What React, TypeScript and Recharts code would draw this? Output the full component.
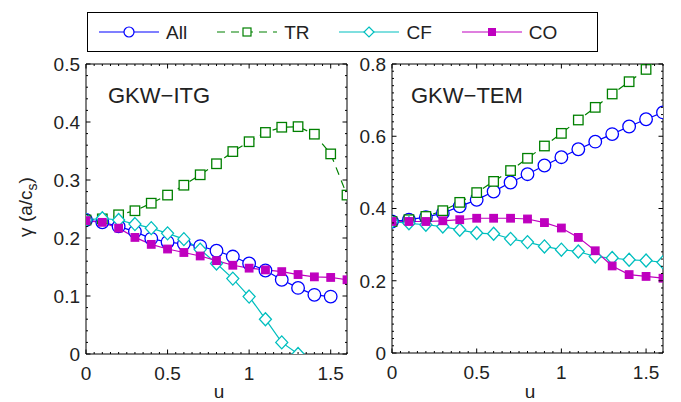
import { Line, LineChart, XAxis, YAxis } from 'recharts';

const FONT = '"Liberation Sans", Arial, Helvetica, sans-serif';

// u values (shared by both panels)
const uValues = [0, 0.1, 0.2, 0.3, 0.4, 0.5, 0.6, 0.7, 0.8, 0.9, 1.0, 1.1, 1.2, 1.3, 1.4, 1.5, 1.6];

// GKW-ITG growth rates
const itgAll = [0.231, 0.227, 0.22, 0.211, 0.199, 0.193, 0.19, 0.186, 0.178, 0.168, 0.156, 0.144, 0.128, 0.114, 0.102, 0.099];
const itgTR = [0.231, 0.233, 0.24, 0.247, 0.26, 0.274, 0.291, 0.309, 0.328, 0.349, 0.366, 0.382, 0.391, 0.392, 0.379, 0.345, 0.274];
const itgCF = [0.231, 0.234, 0.231, 0.224, 0.217, 0.208, 0.198, 0.18, 0.156, 0.13, 0.099, 0.06, 0.02, 0.0];
const itgCO = [0.23, 0.227, 0.217, 0.201, 0.189, 0.181, 0.175, 0.169, 0.161, 0.153, 0.148, 0.145, 0.142, 0.137, 0.133, 0.132, 0.128];

// GKW-TEM growth rates
const temAll = [0.364, 0.369, 0.376, 0.387, 0.406, 0.424, 0.447, 0.472, 0.495, 0.519, 0.542, 0.564, 0.585, 0.606, 0.627, 0.647, 0.666];
const temTR = [0.364, 0.369, 0.378, 0.394, 0.417, 0.444, 0.475, 0.505, 0.539, 0.573, 0.608, 0.645, 0.68, 0.717, 0.751, 0.785, 0.82];
const temCF = [0.364, 0.359, 0.355, 0.35, 0.341, 0.332, 0.33, 0.316, 0.307, 0.295, 0.286, 0.281, 0.267, 0.263, 0.258, 0.256, 0.251];
const temCO = [0.364, 0.364, 0.364, 0.366, 0.369, 0.373, 0.373, 0.373, 0.371, 0.361, 0.346, 0.32, 0.283, 0.241, 0.217, 0.212, 0.207];

const xMajors = [0, 0.5, 1, 1.5];
const itgMajors = [0, 0.1, 0.2, 0.3, 0.4, 0.5];
const temMajors = [0, 0.2, 0.4, 0.6, 0.8];

const C_ALL = '#0000ff';
const C_TR = '#008000';
const C_CF = '#00bfbf';
const C_CO = '#bf00bf';

const makeRows = (all: number[], tr: number[], cf: number[], co: number[]) =>
  uValues.map((u, i) => ({
    u,
    all: all[i] ?? null,
    tr: tr[i] ?? null,
    cf: cf[i] ?? null,
    co: co[i] ?? null,
  }));

const itgRows = makeRows(itgAll, itgTR, itgCF, itgCO);
const temRows = makeRows(temAll, temTR, temCF, temCO);

// minor ticks
const steps = (max: number, step: number) => {
  const out: number[] = [];
  for (let i = 0; i * step <= max + 1e-9; i++) out.push(Math.round(i * step * 1000) / 1000);
  return out;
};
const xTicks = steps(1.6, 0.05);

type Side = 'bottom' | 'top' | 'left' | 'right';

const makeTick = (side: Side, majors: number[], labels: boolean) => (props: any) => {
  const { x, y, payload } = props;
  const v = payload.value;
  const major = majors.some((m) => Math.abs(m - v) < 1e-6);
  const len = major ? 4.5 : 2;
  let line;
  if (side === 'bottom') line = <line x1={x} y1={y} x2={x} y2={y - len} stroke="#000" />;
  else if (side === 'top') line = <line x1={x} y1={y} x2={x} y2={y + len} stroke="#000" />;
  else if (side === 'left') line = <line x1={x} y1={y} x2={x + len} y2={y} stroke="#000" />;
  else line = <line x1={x} y1={y} x2={x - len} y2={y} stroke="#000" />;
  let text = null;
  if (major && labels) {
    if (side === 'bottom')
      text = (
        <text x={x} y={y + 26} textAnchor="middle" fontSize={19} fontFamily={FONT} fill="#222">
          {String(v)}
        </text>
      );
    else
      text = (
        <text x={x - 6} y={y} dy="0.36em" textAnchor="end" fontSize={19} fontFamily={FONT} fill="#222">
          {String(v)}
        </text>
      );
  }
  return (
    <g>
      {line}
      {text}
    </g>
  );
};

const circleDot = (color: string) => (p: any) =>
  p.cy == null ? <g key={p.key ?? p.index} /> : <circle key={p.key ?? p.index} cx={p.cx} cy={p.cy} r={6.3} fill="#fff" stroke={color} strokeWidth={1.3} />;

const squareDot = (color: string, filled: boolean, s: number) => (p: any) =>
  p.cy == null ? (
    <g key={p.key ?? p.index} />
  ) : (
    <rect key={p.key ?? p.index} x={p.cx - s / 2} y={p.cy - s / 2} width={s} height={s} fill={filled ? color : '#fff'} stroke={color} strokeWidth={1.3} />
  );

const diamondDot = (color: string) => (p: any) =>
  p.cy == null ? (
    <g key={p.key ?? p.index} />
  ) : (
    <path
      key={p.key ?? p.index}
      d={`M${p.cx},${p.cy - 6.5}L${p.cx + 6},${p.cy}L${p.cx},${p.cy + 6.5}L${p.cx - 6},${p.cy}Z`}
      fill="#fff"
      stroke={color}
      strokeWidth={1.3}
    />
  );

type PanelProps = {
  rows: any[];
  yMax: number;
  yMajors: number[];
  margin: { top: number; right: number; bottom: number; left: number };
};

function Panel({ rows, yMax, yMajors, margin }: PanelProps) {
  const yTicks = steps(yMax, 0.02);
  return (
    <LineChart width={681} height={402} data={rows} margin={margin}>
      <XAxis
        xAxisId="b"
        dataKey="u"
        type="number"
        domain={[0, 1.6]}
        allowDataOverflow
        ticks={xTicks}
        interval={0}
        height={1}
        tickSize={0}
        tickMargin={0}
        tickLine={false}
        axisLine={{ stroke: '#000' }}
        tick={makeTick('bottom', xMajors, true)}
      />
      <XAxis
        xAxisId="t"
        orientation="top"
        dataKey="u"
        type="number"
        domain={[0, 1.6]}
        allowDataOverflow
        ticks={xTicks}
        interval={0}
        height={1}
        tickSize={0}
        tickMargin={0}
        tickLine={false}
        axisLine={{ stroke: '#000' }}
        tick={makeTick('top', xMajors, false)}
      />
      <YAxis
        yAxisId="l"
        type="number"
        domain={[0, yMax]}
        allowDataOverflow
        ticks={yTicks}
        interval={0}
        width={1}
        tickSize={0}
        tickMargin={0}
        tickLine={false}
        axisLine={{ stroke: '#000' }}
        tick={makeTick('left', yMajors, true)}
      />
      <YAxis
        yAxisId="r"
        orientation="right"
        type="number"
        domain={[0, yMax]}
        allowDataOverflow
        ticks={yTicks}
        interval={0}
        width={1}
        tickSize={0}
        tickMargin={0}
        tickLine={false}
        axisLine={{ stroke: '#000' }}
        tick={makeTick('right', yMajors, false)}
      />
      <Line xAxisId="b" yAxisId="l" dataKey="all" type="linear" stroke={C_ALL} strokeWidth={1.2} dot={circleDot(C_ALL)} isAnimationActive={false} />
      <Line xAxisId="b" yAxisId="l" dataKey="tr" type="linear" stroke={C_TR} strokeWidth={1.2} strokeDasharray="8 6" dot={squareDot(C_TR, false, 9.5)} isAnimationActive={false} />
      <Line xAxisId="b" yAxisId="l" dataKey="cf" type="linear" stroke={C_CF} strokeWidth={1.2} dot={diamondDot(C_CF)} isAnimationActive={false} />
      <Line xAxisId="b" yAxisId="l" dataKey="co" type="linear" stroke={C_CO} strokeWidth={1.2} dot={squareDot(C_CO, true, 7.5)} isAnimationActive={false} />
    </LineChart>
  );
}

const legendItems = [
  { name: 'All', color: C_ALL, marker: 'circle', dash: undefined },
  { name: 'TR', color: C_TR, marker: 'square', dash: '8 6' },
  { name: 'CF', color: C_CF, marker: 'diamond', dash: undefined },
  { name: 'CO', color: C_CO, marker: 'filled', dash: undefined },
];

function LegendIcon({ color, marker, dash }: { color: string; marker: string; dash?: string }) {
  return (
    <svg width={60} height={16} style={{ display: 'block' }}>
      <line x1={0} y1={8} x2={60} y2={8} stroke={color} strokeWidth={1.2} strokeDasharray={dash} />
      {marker === 'circle' && <circle cx={30} cy={8} r={5} fill="#fff" stroke={color} strokeWidth={1.2} />}
      {marker === 'square' && <rect x={26} y={4} width={8} height={8} fill="#fff" stroke={color} strokeWidth={1.2} />}
      {marker === 'diamond' && <path d="M30,3L35,8L30,13L25,8Z" fill="#fff" stroke={color} strokeWidth={1.2} />}
      {marker === 'filled' && <rect x={26.5} y={4.5} width={7} height={7} fill={color} stroke={color} strokeWidth={1} />}
    </svg>
  );
}

export default function App() {
  return (
    <div style={{ position: 'relative', width: 681, height: 402, background: '#fff', overflow: 'hidden', fontFamily: FONT }}>
      <style>{'body{margin:0}'}</style>
      <div style={{ position: 'absolute', left: 0, top: 0 }}>
        <Panel rows={itgRows} yMax={0.5} yMajors={itgMajors} margin={{ top: 63, right: 333, bottom: 47, left: 85 }} />
      </div>
      <div style={{ position: 'absolute', left: 0, top: 0 }}>
        <Panel rows={temRows} yMax={0.8} yMajors={temMajors} margin={{ top: 63, right: 17, bottom: 48, left: 391 }} />
      </div>
      <svg width={681} height={402} style={{ position: 'absolute', left: 0, top: 0, pointerEvents: 'none' }}>
        <text x={108} y={103} fontSize={22} fontFamily={FONT} fill="#222">
          GKW−ITG
        </text>
        <text x={411} y={103} fontSize={22} fontFamily={FONT} fill="#222">
          GKW−TEM
        </text>
        <text x={219} y={398} textAnchor="middle" fontSize={19} fontFamily={FONT} fill="#222">
          u
        </text>
        <text x={530} y={398} textAnchor="middle" fontSize={19} fontFamily={FONT} fill="#222">
          u
        </text>
        <text transform="translate(32,207) rotate(-90)" textAnchor="middle" fontSize={19} fontFamily={FONT} fill="#222">
          γ (a/c
          <tspan fontSize={14} dy={5}>
            s
          </tspan>
          <tspan dy={-5}>)</tspan>
        </text>
      </svg>
      <div
        style={{
          position: 'absolute',
          left: 87,
          top: 12,
          width: 498,
          height: 38,
          border: '1px solid #000',
          background: '#fff',
          display: 'flex',
          alignItems: 'center',
          paddingLeft: 11,
          boxSizing: 'content-box',
          gap: 30,
        }}
      >
        {legendItems.map((it) => (
          <div key={it.name} style={{ display: 'flex', alignItems: 'center' }}>
            <LegendIcon color={it.color} marker={it.marker} dash={it.dash} />
            <span style={{ marginLeft: 7, fontSize: 19, color: '#222', lineHeight: '19px' }}>{it.name}</span>
          </div>
        ))}
      </div>
    </div>
  );
}
